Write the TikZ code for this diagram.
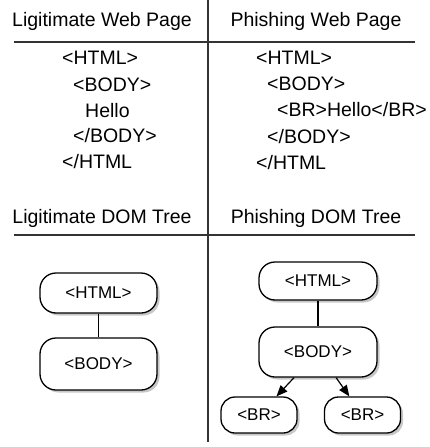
\documentclass[tikz,border=0pt]{standalone}
\usepackage{fontspec}
\setmainfont{Liberation Sans}
\usetikzlibrary{arrows.meta}
\begin{document}
\begin{tikzpicture}[x=1pt,y=-1pt,
  hdr/.style={font=\fontsize{19.5}{20}\selectfont, anchor=base, inner sep=0},
  code/.style={font=\fontsize{19.5}{20}\selectfont, anchor=base west, inner sep=0},
  sepline/.style={line width=1.6pt, draw=black!80},
  tnode/.style={draw, line width=1.3pt, rounded corners=16pt, fill=white,
    font=\fontsize{17}{18}\selectfont, inner sep=0},
  tshadow/.style={draw=none, rounded corners=16pt, fill=black!22, inner sep=0},
  link/.style={line width=1.2pt},
  arr/.style={line width=1.2pt, -{Triangle[length=11pt,width=9pt]}}]
\useasboundingbox (0,0) rectangle (430,447);
% separators
\coordinate (vt) at (208,0);
\coordinate (vb) at (208,442);
\coordinate (h1l) at (14,42);
\coordinate (h1r) at (415,42);
\coordinate (h2l) at (14,235);
\coordinate (h2r) at (415,235);
\draw[sepline] (vt) -- (vb);
\draw[sepline] (h1l) -- (h1r);
\draw[sepline] (h2l) -- (h2r);
% headers
\node[hdr] (hl1) at (102,27) {Ligitimate Web Page};
\node[hdr] (hr1) at (316,27) {Phishing Web Page};
\node[hdr] (hl2) at (102,223) {Ligitimate DOM Tree};
\node[hdr] (hr2) at (316,223) {Phishing DOM Tree};
% legit code
\node[code] (l1) at (62,64) {<HTML>};
\node[code] (l2) at (73,91) {<BODY>};
\node[code] (l3) at (85,117) {Hello};
\node[code] (l4) at (73,142) {</BODY>};
\node[code] (l5) at (62,168) {</HTML};
% phishing code
\node[code] (p1) at (256,64) {<HTML>};
\node[code] (p2) at (267,90) {<BODY>};
\node[code] (p3) at (277,116) {<BR>Hello</BR>};
\node[code] (p4) at (267,143) {</BODY>};
\node[code] (p5) at (256,169) {</HTML};
% shadows
\node[tshadow, minimum width=117pt, minimum height=40pt] (lhs) at (101,295.5) {};
\node[tshadow, minimum width=117pt, minimum height=52pt] (lbs) at (101,366.5) {};
\node[tshadow, minimum width=118pt, minimum height=38pt] (phs) at (320.5,283.5) {};
\node[tshadow, minimum width=118pt, minimum height=50pt] (pbs) at (320.5,354.5) {};
\node[tshadow, minimum width=76pt, minimum height=36pt, rounded corners=14pt] (br1s) at (261.5,417.5) {};
\node[tshadow, minimum width=76pt, minimum height=36pt, rounded corners=14pt] (br2s) at (365,417.5) {};
% legit tree
\node[tnode, minimum width=117pt, minimum height=40pt] (lh) at (98.5,293) {<HTML>};
\node[tnode, minimum width=117pt, minimum height=52pt] (lb) at (98.5,364) {<BODY>};
\draw[link] (lh) -- (lb);
% phishing tree
\node[tnode, minimum width=118pt, minimum height=38pt] (ph) at (318,281) {<HTML>};
\node[tnode, minimum width=118pt, minimum height=50pt] (pb) at (318,352) {<BODY>};
\node[tnode, minimum width=76pt, minimum height=36pt, rounded corners=14pt] (br1) at (259,415) {<BR>};
\node[tnode, minimum width=76pt, minimum height=36pt, rounded corners=14pt] (br2) at (362.5,415) {<BR>};
\draw[link] (ph) -- (pb);
\draw[arr] (pb) -- (br1);
\draw[arr] (pb) -- (br2);
\end{tikzpicture}
\end{document}
